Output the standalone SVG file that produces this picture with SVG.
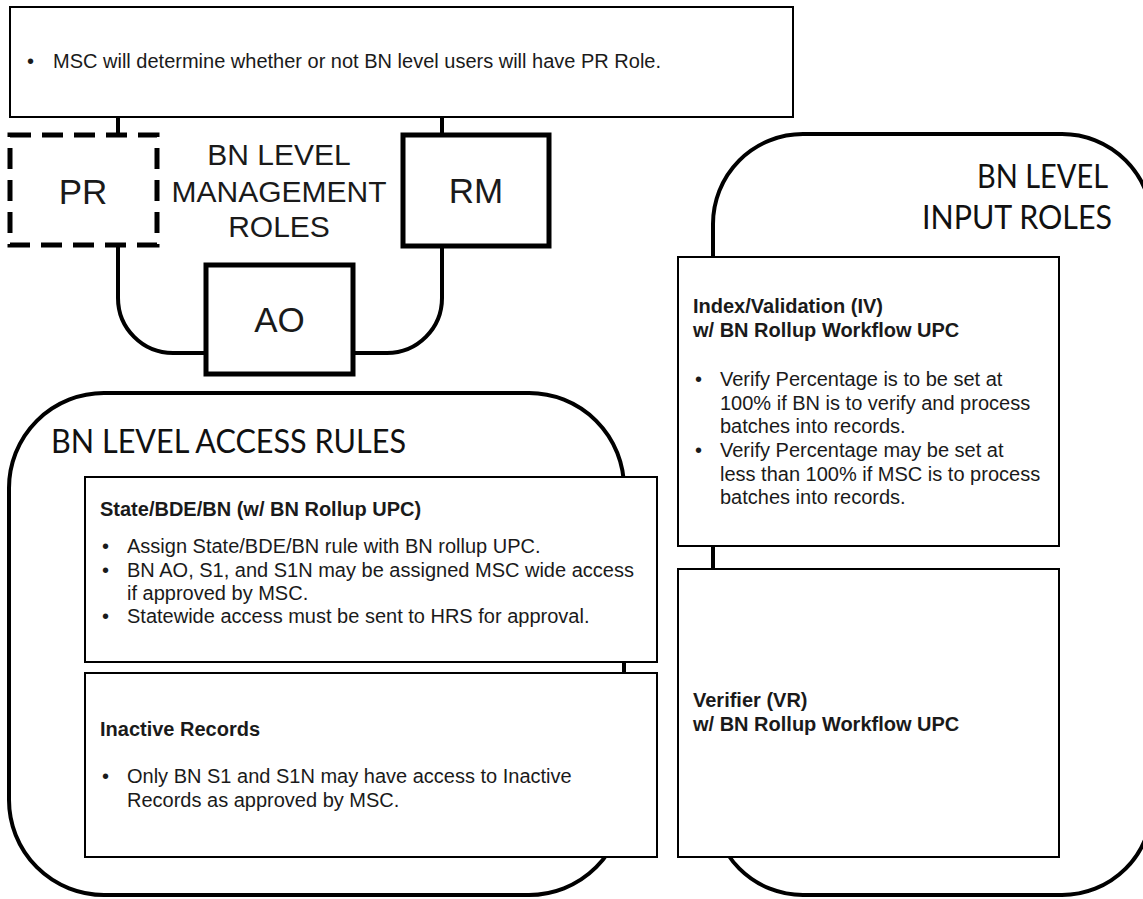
<svg xmlns="http://www.w3.org/2000/svg" width="1143" height="899" viewBox="0 0 1143 899">
  <style>
    .box { fill: #fff; stroke: #000; stroke-width: 2; }
    .role { fill: #fff; stroke: #000; stroke-width: 5; }
    .role-dashed { fill: #fff; stroke: #000; stroke-width: 5; stroke-dasharray: 21 11; }
    .container { fill: #fff; stroke: #000; stroke-width: 4; }
    .conn { fill: none; stroke: #000; stroke-width: 4; }
    .t { font-family: "Liberation Sans", Arial, sans-serif; font-size: 20px; fill: #1a1a1a; }
    .b { font-weight: bold; }
    .role-t { font-family: "Liberation Sans", Arial, sans-serif; font-size: 35px; fill: #1a1a1a; text-anchor: middle; }
    .mgmt { font-family: "Liberation Sans", Arial, sans-serif; font-size: 30px; fill: #1a1a1a; text-anchor: middle; }
    .head { font-family: Lato, "Open Sans", sans-serif; font-size: 33px; fill: #111; }
  </style>

  <!-- group containers -->
  <g id="access-rules-group">
    <rect class="container" x="9" y="393" width="615" height="502" rx="95" ry="95"/>
    <text class="head" x="51" y="453" textLength="355" lengthAdjust="spacingAndGlyphs">BN LEVEL ACCESS RULES</text>
  </g>
  <g id="input-roles-group">
    <rect class="container" x="713" y="134" width="439" height="761" rx="90" ry="90"/>
    <text class="head" x="1108" y="188" text-anchor="end" textLength="131" lengthAdjust="spacingAndGlyphs">BN LEVEL</text>
    <text class="head" x="1112" y="229" text-anchor="end" textLength="190" lengthAdjust="spacingAndGlyphs">INPUT ROLES</text>
  </g>

  <!-- connectors -->
  <g id="connectors">
    <path class="conn" d="M118,117 V136"/>
    <path class="conn" d="M442,117 V136"/>
    <path class="conn" d="M118,245 V298 A55,55 0 0 0 173,353 H206"/>
    <path class="conn" d="M442,246 V298 A55,55 0 0 1 387,353 H353"/>
  </g>

  <!-- note box -->
  <g id="note-pr-role">
    <rect class="box" x="10" y="7" width="783" height="110"/>
    <text class="t" x="27" y="68">•</text>
    <text class="t" x="53" y="68">MSC will determine whether or not BN level users will have PR Role.</text>
  </g>

  <!-- management roles -->
  <g id="role-pr">
    <rect class="role-dashed" x="10" y="135" width="147" height="110"/>
    <text class="role-t" x="83" y="204">PR</text>
  </g>
  <g id="mgmt-label">
    <text class="mgmt" x="279" y="165">BN LEVEL</text>
    <text class="mgmt" x="279" y="202">MANAGEMENT</text>
    <text class="mgmt" x="279" y="237">ROLES</text>
  </g>
  <g id="role-rm">
    <rect class="role" x="403" y="135" width="146" height="111"/>
    <text class="role-t" x="476" y="203">RM</text>
  </g>
  <g id="role-ao">
    <rect class="role" x="206" y="265" width="147" height="109"/>
    <text class="role-t" x="279.5" y="332">AO</text>
  </g>

  <!-- access rules -->
  <g id="rule-state-bde-bn">
    <rect class="box" x="85" y="477" width="572" height="185"/>
    <text class="t b" x="100" y="516">State/BDE/BN (w/ BN Rollup UPC)</text>
    <text class="t" x="102" y="553">•</text>
    <text class="t" x="127" y="553">Assign State/BDE/BN rule with BN rollup UPC.</text>
    <text class="t" x="102" y="577">•</text>
    <text class="t" x="127" y="577">BN AO, S1, and S1N may be assigned MSC wide access</text>
    <text class="t" x="127" y="600">if approved by MSC.</text>
    <text class="t" x="102" y="623">•</text>
    <text class="t" x="127" y="623">Statewide access must be sent to HRS for approval.</text>
  </g>
  <g id="rule-inactive-records">
    <rect class="box" x="85" y="673" width="572" height="184"/>
    <text class="t b" x="100" y="736">Inactive Records</text>
    <text class="t" x="102" y="783">•</text>
    <text class="t" x="127" y="783">Only BN S1 and S1N may have access to Inactive</text>
    <text class="t" x="127" y="807">Records as approved by MSC.</text>
  </g>

  <!-- input roles -->
  <g id="role-iv">
    <rect class="box" x="678" y="257" width="381" height="289"/>
    <text class="t b" x="693" y="313">Index/Validation (IV)</text>
    <text class="t b" x="693" y="337">w/ BN Rollup Workflow UPC</text>
    <text class="t" x="695" y="386">•</text>
    <text class="t" x="720" y="386">Verify Percentage is to be set at</text>
    <text class="t" x="720" y="409.5">100% if BN is to verify and process</text>
    <text class="t" x="720" y="433">batches into records.</text>
    <text class="t" x="695" y="457">•</text>
    <text class="t" x="720" y="457">Verify Percentage may be set at</text>
    <text class="t" x="720" y="480.5">less than 100% if MSC is to process</text>
    <text class="t" x="720" y="504">batches into records.</text>
  </g>
  <g id="role-vr">
    <rect class="box" x="678" y="569" width="381" height="288"/>
    <text class="t b" x="693" y="707">Verifier (VR)</text>
    <text class="t b" x="693" y="731">w/ BN Rollup Workflow UPC</text>
  </g>
</svg>
